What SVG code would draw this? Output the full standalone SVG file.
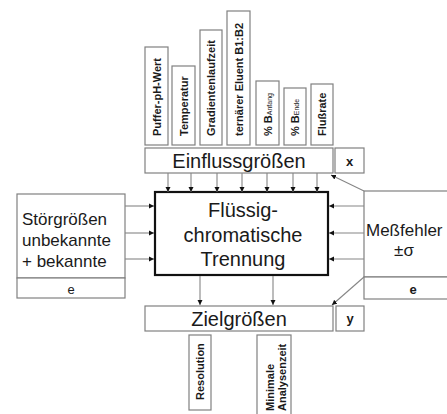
<svg xmlns="http://www.w3.org/2000/svg" width="447" height="414" viewBox="0 0 447 414">
<style>
.box{fill:#fff;stroke:#808080;stroke-width:1.2}
.main{fill:#fff;stroke:#111;stroke-width:2.2}
.ln{stroke:#858585;stroke-width:1.1;fill:none}
.big{font-family:"Liberation Sans",Arial,sans-serif;font-size:20px;fill:#1a1a1a;text-anchor:middle}
.mid{font-family:"Liberation Sans",Arial,sans-serif;font-size:17px;fill:#1a1a1a}
.rot{font-family:"Liberation Sans",Arial,sans-serif;font-size:11px;font-weight:bold;fill:#1a1a1a}
.lbl{font-family:"Liberation Sans",Arial,sans-serif;font-size:13px;fill:#1a1a1a;text-anchor:middle}
</style>
<defs>
<marker id="ah" markerWidth="6" markerHeight="6" refX="5" refY="3" orient="auto" markerUnits="userSpaceOnUse">
<path d="M0,0.5 L5,3 L0,5.5 Z" fill="#111"/>
</marker>
</defs>
<rect width="447" height="414" fill="#fff"/>

<g id="params">
<rect class="box" x="145" y="47" width="23" height="98"/>
<text class="rot" transform="translate(161,136) rotate(-90)">Puffer-pH-Wert</text>
<rect class="box" x="172" y="66" width="23" height="79"/>
<text class="rot" transform="translate(188,136) rotate(-90)">Temperatur</text>
<rect class="box" x="200" y="30" width="22" height="115"/>
<text class="rot" transform="translate(215,136) rotate(-90)">Gradientenlaufzeit</text>
<rect class="box" x="227" y="11" width="23" height="134"/>
<text class="rot" transform="translate(242.5,136) rotate(-90)">ternärer Eluent B1:B2</text>
<rect class="box" x="256" y="81" width="23" height="64"/>
<text class="rot" transform="translate(271.5,136) rotate(-90)">% B<tspan font-size="7" font-weight="normal">Anfang</tspan></text>
<rect class="box" x="284" y="88" width="22" height="57"/>
<text class="rot" transform="translate(299,136) rotate(-90)">% B<tspan font-size="7" font-weight="normal">Ende</tspan></text>
<rect class="box" x="311" y="84" width="22" height="61"/>
<text class="rot" transform="translate(326,136) rotate(-90)">Flußrate</text>
</g>

<g id="einfluss">
<rect class="box" x="145" y="148" width="188" height="25"/>
<text class="big" x="239" y="168">Einflussgrößen</text>
</g>
<g id="xbox">
<rect class="box" x="335" y="148" width="29" height="25"/>
<text class="lbl" x="349.5" y="166" font-weight="bold">x</text>
</g>

<g id="stoer">
<rect class="box" x="17" y="194" width="108" height="84"/>
<text class="mid" x="22" y="225">Störgrößen</text>
<text class="mid" x="22" y="246">unbekannte</text>
<text class="mid" x="22" y="267">+ bekannte</text>
<rect class="box" x="17" y="278" width="108" height="20"/>
<text class="lbl" x="71" y="294">e</text>
</g>

<g id="trennung">
<rect class="main" x="155" y="192" width="173" height="83"/>
<text class="big" x="243" y="217">Flüssig-</text>
<text class="big" x="243" y="242">chromatische</text>
<text class="big" x="243" y="266">Trennung</text>
</g>

<g id="messfehler">
<rect class="box" x="364" y="191" width="90" height="86"/>
<text class="mid" x="366" y="236" font-size="16.5">Meßfehler</text>
<text class="mid" x="404" y="256" text-anchor="middle">±σ</text>
<rect class="box" x="364" y="277" width="90" height="22"/>
<text class="lbl" x="413" y="294" font-weight="bold">e</text>
</g>

<g id="ziel">
<rect class="box" x="145" y="306" width="188" height="25"/>
<text class="big" x="239" y="326">Zielgrößen</text>
</g>
<g id="ybox">
<rect class="box" x="336" y="306" width="28" height="25"/>
<text class="lbl" x="350" y="323" font-weight="bold">y</text>
</g>

<g id="resolution">
<rect class="box" x="189" y="335" width="22" height="75"/>
<text class="rot" transform="translate(204,400) rotate(-90)">Resolution</text>
</g>
<g id="analysenzeit">
<rect class="box" x="257" y="335" width="34" height="85"/>
<text class="rot" transform="translate(273.5,411) rotate(-90)">Minimale</text>
<text class="rot" transform="translate(286,411) rotate(-90)">Analysenzeit</text>
</g>

<g id="connectors">
<line class="ln" x1="168" y1="173" x2="168" y2="192" marker-end="url(#ah)"/>
<line class="ln" x1="191" y1="173" x2="191" y2="192" marker-end="url(#ah)"/>
<line class="ln" x1="217" y1="173" x2="217" y2="192" marker-end="url(#ah)"/>
<line class="ln" x1="242" y1="173" x2="242" y2="192" marker-end="url(#ah)"/>
<line class="ln" x1="267" y1="173" x2="267" y2="192" marker-end="url(#ah)"/>
<line class="ln" x1="293" y1="173" x2="293" y2="192" marker-end="url(#ah)"/>
<line class="ln" x1="317" y1="173" x2="317" y2="192" marker-end="url(#ah)"/>
<line class="ln" x1="125" y1="206" x2="154" y2="206" marker-end="url(#ah)"/>
<line class="ln" x1="125" y1="233" x2="154" y2="233" marker-end="url(#ah)"/>
<line class="ln" x1="125" y1="259" x2="154" y2="259" marker-end="url(#ah)"/>
<line class="ln" x1="364" y1="206" x2="329" y2="206" marker-end="url(#ah)"/>
<line class="ln" x1="364" y1="233" x2="329" y2="233" marker-end="url(#ah)"/>
<line class="ln" x1="364" y1="259" x2="329" y2="259" marker-end="url(#ah)"/>
<line class="ln" x1="200" y1="276" x2="200" y2="305" marker-end="url(#ah)"/>
<line class="ln" x1="273" y1="276" x2="273" y2="305" marker-end="url(#ah)"/>
<line class="ln" x1="364" y1="191" x2="331" y2="175" marker-end="url(#ah)"/>
<line class="ln" x1="364" y1="277" x2="332" y2="305" marker-end="url(#ah)"/>
</g>
</svg>
